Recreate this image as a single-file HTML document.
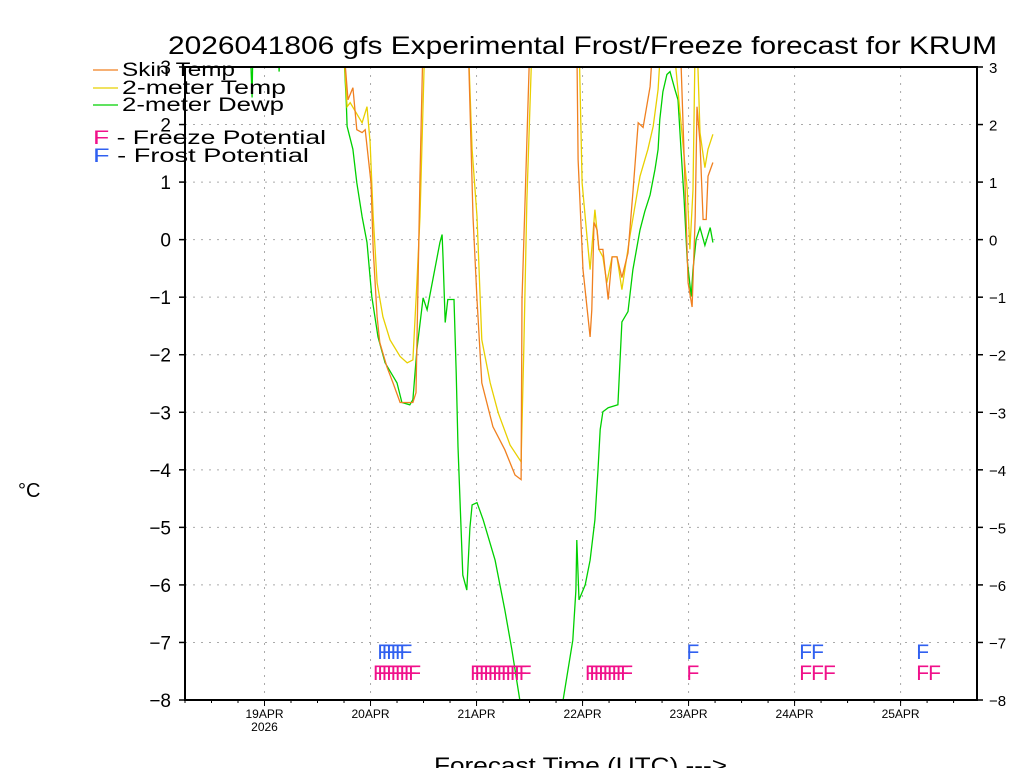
<!DOCTYPE html>
<html><head><meta charset="utf-8"><style>
html,body{margin:0;padding:0;background:#fff;}
svg{display:block;font-family:"Liberation Sans",sans-serif;}
</style></head><body>
<svg id="chart" width="1024" height="768" viewBox="0 0 1024 768">
<defs><clipPath id="plotclip"><rect x="185" y="67" width="792" height="633"/></clipPath></defs>
<rect width="1024" height="768" fill="#fff"/>
<text x="168" y="54" font-size="25" textLength="829" lengthAdjust="spacingAndGlyphs">2026041806 gfs Experimental Frost/Freeze forecast for KRUM</text>
<g id="grid"></g>
<g id="series" clip-path="url(#plotclip)"></g>
<g id="marks"></g>
<g id="axes"></g>
<text x="18" y="497" font-size="20">°C</text>
<text x="434" y="773" font-size="22" textLength="293" lengthAdjust="spacingAndGlyphs">Forecast Time (UTC) ---&gt;</text>
<g font-size="19">
<line x1="93" y1="70" x2="118" y2="70" stroke="#f08020" stroke-width="1.2"/>
<text x="122" y="76" textLength="113" lengthAdjust="spacingAndGlyphs">Skin Temp</text>
<line x1="93" y1="88" x2="118" y2="88" stroke="#e8d000" stroke-width="1.2"/>
<text x="122" y="94" textLength="164" lengthAdjust="spacingAndGlyphs">2-meter Temp</text>
<line x1="93" y1="105" x2="118" y2="105" stroke="#00d000" stroke-width="1.2"/>
<text x="122" y="111" textLength="162" lengthAdjust="spacingAndGlyphs">2-meter Dewp</text>
<text x="93" y="144" textLength="233" lengthAdjust="spacingAndGlyphs"><tspan fill="#f0108a">F</tspan> - Freeze Potential</text>
<text x="93" y="162" textLength="216" lengthAdjust="spacingAndGlyphs"><tspan fill="#3060f0">F</tspan> - Frost Potential</text>
</g>
</svg>
<script>
const skinH=[35.8,36.9,38.0,38.9,40.1,40.8,42.1,42.6,43.5,44.1,45.7,47.1,48.7,51.6,52.3,53.2,53.9,64.1,65.2,66.1,67.2,69.7,72.4,74.7,76.1,76.3,77.0,78.1,88.7,89.0,90.1,91.7,92.1,92.6,93.3,93.7,94.6,95.8,96.7,97.8,98.9,100.3,101.4,102.6,103.7,105.3,106.0,112.1,113.2,113.9,114.8,115.5,115.9,116.6,117.3,118.0,118.4,119.5];
const skinV=[3.5,2.43,2.64,1.91,1.86,1.91,0.99,-0.17,-1.34,-1.79,-2.21,-2.49,-2.83,-2.83,-2.66,1.10,3.5,3.5,0.40,-1.04,-2.49,-3.25,-3.65,-4.09,-4.17,-1.04,0.70,3.5,3.5,1.39,-0.52,-1.69,-1.22,0.30,0.17,-0.17,-0.17,-1.04,-0.30,-0.30,-0.66,-0.23,0.82,2.03,1.95,2.66,3.5,3.5,0.99,-0.75,-1.17,0.40,2.31,1.69,0.35,0.35,1.10,1.34];
const t2mH=[35.8,36.7,37.4,40.1,41.2,41.9,42.6,43.5,44.8,46.4,48.7,50.3,51.6,52.5,53.2,54.3,64.1,65.0,66.1,67.2,69.1,70.9,73.6,76.1,76.7,77.4,78.6,89.2,89.9,91.0,91.7,92.8,93.7,94.6,95.5,96.7,97.8,98.9,100.7,103.0,104.8,106.0,107.1,107.8,110.5,113.7,114.3,115.0,115.5,115.9,116.6,117.7,118.4,119.5];
const t2mV=[3.5,2.31,2.38,2.03,2.31,1.69,0.40,-0.75,-1.34,-1.74,-2.03,-2.14,-2.09,-0.75,0.40,3.5,3.5,1.57,0.40,-1.74,-2.49,-3.01,-3.57,-3.86,-1.91,0.70,3.5,3.5,0.99,0.05,-0.52,0.52,-0.17,-0.30,-0.75,-0.30,-0.30,-0.87,0.05,1.10,1.57,1.97,2.61,3.5,3.5,0.87,-0.17,0.87,3.5,3.5,1.86,1.25,1.57,1.83];
const dewH=[14.7,15.2,15.4,21.1,21.3,21.7,35.8,36.5,36.7,38.0,38.9,40.1,41.2,42.3,43.7,45.3,48.0,49.1,50.9,51.6,52.5,53.9,54.8,57.7,58.2,58.4,58.9,59.5,60.9,61.4,61.8,62.9,63.8,64.5,65.0,66.1,67.5,70.2,72.4,74.0,75.8,78.1,83.8,85.6,87.8,88.5,88.7,89.2,90.6,91.7,92.8,93.5,94.0,94.6,95.8,98.0,98.9,100.3,101.4,103.0,104.1,105.3,106.4,107.1,107.5,108.2,109.1,109.8,110.9,111.6,112.3,113.0,113.7,114.6,115.0,115.7,116.6,117.7,118.9,119.5];
const dewV=[3.5,2.47,3.5,3.5,2.92,3.5,3.5,2.43,1.97,1.57,0.99,0.40,-0.05,-0.99,-1.69,-2.14,-2.49,-2.83,-2.87,-2.78,-1.91,-1.01,-1.22,-0.05,0.09,-0.30,-1.44,-1.04,-1.04,-2.31,-3.60,-5.83,-6.09,-5.01,-4.61,-4.57,-4.87,-5.57,-6.43,-7.13,-8.0,-9,-9,-8.0,-6.96,-6.09,-5.22,-6.26,-6.0,-5.57,-4.87,-4.0,-3.30,-2.99,-2.92,-2.87,-1.43,-1.25,-0.52,0.17,0.49,0.78,1.22,1.57,2.09,2.57,2.87,2.92,2.61,2.43,1.57,0.70,-0.35,-0.99,-0.52,0,0.21,-0.10,0.21,-0.05];
const freezeHours=[43,44,45,46,47,48,49,50,51,65,66,67,68,69,70,71,72,73,74,75,76,91,92,93,94,95,96,97,98,99,114,139.5,142.2,144.9,166,168.7];
const frostHours=[44,45,46,47,48,49,114,139.5,142.2,166];
const yTicks=[-8,-7,-6,-5,-4,-3,-2,-1,0,1,2,3];
const dayLabels=["19APR","20APR","21APR","22APR","23APR","24APR","25APR"];
const dayHours=[18,42,66,90,114,138,162];

const NS="http://www.w3.org/2000/svg";
const X0=185,X1=977,Y0=67,Y1=700,HMAX=179.3,VMIN=-8,VMAX=3;
function xs(h){return X0+h*(X1-X0)/HMAX;}
function ys(v){return Y1-(v-VMIN)*(Y1-Y0)/(VMAX-VMIN);}
function mk(tag,attrs,parent){const e=document.createElementNS(NS,tag);for(const k in attrs)e.setAttribute(k,attrs[k]);parent.appendChild(e);return e;}
const grid=document.getElementById('grid'),axes=document.getElementById('axes'),series=document.getElementById('series'),marks=document.getElementById('marks');
yTicks.forEach(v=>{
  const y=ys(v);
  if(v>VMIN&&v<VMAX){const g=mk('line',{x1:X0,x2:X1,y1:y,y2:y,stroke:'#aaa','stroke-dasharray':'2,6'},grid);
  
  }
  mk('line',{x1:X0-6,x2:X0,y1:y,y2:y,stroke:'#000','stroke-width':1.5},axes);
  mk('line',{x1:X1,x2:X1+6,y1:y,y2:y,stroke:'#000','stroke-width':1.5},axes);
  const l=mk('text',{x:171,y:y+7,'font-size':19,'text-anchor':'end'},axes);l.textContent=String(v).replace('-','−');
  
  
  const r=mk('text',{x:989,y:y+6,'font-size':15},axes);r.textContent=String(v).replace('-','−');
  
  
});
dayHours.forEach((h,i)=>{
  const x=xs(h);
  const g=mk('line',{x1:x,x2:x,y1:Y0,y2:Y1,stroke:'#aaa','stroke-dasharray':'2,6'},grid);
  
  
  mk('line',{x1:x,x2:x,y1:Y1,y2:Y1+6,stroke:'#000'},axes);
  const t=mk('text',{x:x,y:718,'font-size':12,'text-anchor':'middle'},axes);t.textContent=dayLabels[i];
  
  
});
for(let h=0;h<=HMAX;h+=6){mk('line',{x1:xs(h),x2:xs(h),y1:Y1,y2:Y1+3,stroke:'#000'},axes);}
const yr=mk('text',{x:xs(18),y:731,'font-size':12,'text-anchor':'middle'},axes);yr.textContent='2026';


const frame=mk('rect',{x:X0,y:Y0,width:X1-X0,height:Y1-Y0,fill:'none',stroke:'#000','stroke-width':2},axes);


function line(H,V,color,name){
  const d=H.map((h,i)=>(i?'L':'M')+xs(h).toFixed(1)+','+ys(V[i]).toFixed(1)).join('');
  const p=mk('path',{d:d,fill:'none',stroke:color,'stroke-width':1.3},series);
  
  
}
line(dewH,dewV,'#00d000','dewpoint-line');
line(t2mH,t2mV,'#e8d000','2m-temp-line');
line(skinH,skinV,'#f08020','skin-temp-line');
freezeHours.forEach(h=>{const t=mk('text',{x:xs(h)-2,y:ys(-7.5)+9,'font-size':21,fill:'#f0108a'},marks);t.textContent='F';
  
  });
frostHours.forEach(h=>{const t=mk('text',{x:xs(h)-2,y:ys(-7.13)+9,'font-size':21,fill:'#3060f0'},marks);t.textContent='F';
  
  });
</script>
</body></html>
